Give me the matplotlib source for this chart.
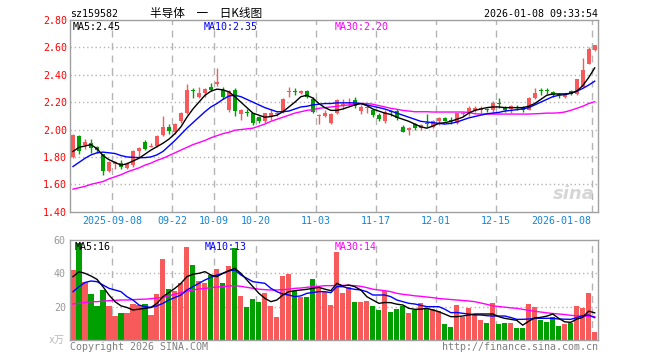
import matplotlib
matplotlib.use('Agg')
import matplotlib.pyplot as plt

W, H = 660, 360

# daily candles, 88 trading days (2025-08-28 .. 2026-01-08)
opens = [1.80, 1.95, 1.89, 1.90, 1.87, 1.82, 1.70, 1.75, 1.755, 1.72,
         1.74, 1.84, 1.91, 1.875, 1.88, 1.96, 2.02, 1.98, 2.06, 2.12,
         2.285, 2.24, 2.265, 2.31, 2.33, 2.29, 2.14, 2.29, 2.11, 2.125,
         2.12, 2.09, 2.06, 2.09, 2.115, 2.13, 2.275, 2.28, 2.265, 2.28,
         2.22, 2.10, 2.10, 2.05, 2.12, 2.18, 2.195, 2.215, 2.135, 2.155,
         2.14, 2.105, 2.06, 2.135, 2.135, 2.02, 1.995, 2.04, 2.01, 2.045,
         2.02, 2.06, 2.085, 2.07, 2.05, 2.115, 2.12, 2.145, 2.14, 2.15,
         2.145, 2.19, 2.16, 2.15, 2.16, 2.16, 2.145, 2.23, 2.285, 2.285,
         2.275, 2.255, 2.24, 2.28, 2.26, 2.31, 2.48, 2.58]
closes = [1.96, 1.84, 1.91, 1.865, 1.85, 1.70, 1.76, 1.765, 1.73, 1.75,
          1.84, 1.865, 1.86, 1.88, 1.95, 2.02, 1.99, 2.04, 2.12, 2.29,
          2.28, 2.265, 2.295, 2.29, 2.35, 2.24, 2.28, 2.135, 2.14, 2.12,
          2.045, 2.06, 2.12, 2.12, 2.12, 2.22, 2.28, 2.275, 2.28, 2.24,
          2.13, 2.105, 2.12, 2.11, 2.215, 2.19, 2.20, 2.17, 2.165, 2.16,
          2.105, 2.08, 2.125, 2.13, 2.085, 1.985, 2.01, 2.01, 2.03, 2.04,
          2.06, 2.085, 2.065, 2.065, 2.12, 2.12, 2.16, 2.16, 2.16, 2.145,
          2.195, 2.185, 2.14, 2.175, 2.155, 2.14, 2.23, 2.265, 2.28, 2.28,
          2.25, 2.25, 2.26, 2.26, 2.37, 2.435, 2.585, 2.615]
highs = [1.97, 1.96, 1.93, 1.93, 1.88, 1.82, 1.77, 1.77, 1.78, 1.76,
         1.85, 1.87, 1.92, 1.90, 1.96, 2.10, 2.04, 2.05, 2.13, 2.33,
         2.30, 2.31, 2.30, 2.34, 2.45, 2.31, 2.29, 2.30, 2.15, 2.15,
         2.12, 2.10, 2.12, 2.15, 2.13, 2.23, 2.31, 2.30, 2.29, 2.29,
         2.24, 2.11, 2.14, 2.12, 2.22, 2.22, 2.23, 2.24, 2.18, 2.18,
         2.15, 2.12, 2.14, 2.14, 2.15, 2.03, 2.02, 2.05, 2.04, 2.11,
         2.07, 2.09, 2.09, 2.09, 2.12, 2.13, 2.17, 2.17, 2.17, 2.16,
         2.21, 2.23, 2.17, 2.18, 2.18, 2.17, 2.24, 2.30, 2.30, 2.30,
         2.28, 2.27, 2.27, 2.29, 2.37, 2.52, 2.60, 2.62]
lows = [1.79, 1.82, 1.86, 1.83, 1.83, 1.67, 1.69, 1.71, 1.71, 1.71,
        1.73, 1.80, 1.85, 1.87, 1.87, 1.95, 1.97, 1.97, 2.05, 2.11,
        2.23, 2.23, 2.24, 2.28, 2.32, 2.22, 2.13, 2.10, 2.07, 2.10,
        2.03, 2.05, 2.05, 2.07, 2.10, 2.12, 2.24, 2.25, 2.26, 2.23,
        2.12, 2.04, 2.09, 2.04, 2.11, 2.15, 2.17, 2.16, 2.11, 2.12,
        2.09, 2.06, 2.05, 2.10, 2.07, 1.98, 1.96, 2.00, 2.00, 2.02,
        2.01, 2.03, 2.06, 2.04, 2.04, 2.10, 2.10, 2.13, 2.12, 2.13,
        2.12, 2.16, 2.13, 2.12, 2.14, 2.13, 2.14, 2.22, 2.25, 2.26,
        2.24, 2.23, 2.23, 2.25, 2.25, 2.31, 2.48, 2.57]

ma5 = [1.84, 1.87, 1.88, 1.89, 1.86, 1.81, 1.78, 1.76, 1.74, 1.75,
       1.77, 1.79, 1.82, 1.85, 1.875, 1.90, 1.93, 1.97, 2.02, 2.09,
       2.15, 2.20, 2.25, 2.28, 2.295, 2.29, 2.275, 2.24, 2.20, 2.16,
       2.12, 2.105, 2.09, 2.095, 2.105, 2.13, 2.165, 2.20, 2.24, 2.25,
       2.23, 2.19, 2.16, 2.14, 2.14, 2.15, 2.165, 2.18, 2.19, 2.175,
       2.15, 2.135, 2.12, 2.11, 2.09, 2.075, 2.06, 2.04, 2.02, 2.01,
       2.025, 2.045, 2.05, 2.06, 2.075, 2.09, 2.12, 2.14, 2.15, 2.16,
       2.165, 2.165, 2.16, 2.16, 2.16, 2.16, 2.17, 2.19, 2.22, 2.25,
       2.26, 2.26, 2.26, 2.265, 2.28, 2.32, 2.38, 2.45]
ma10 = [1.73, 1.76, 1.79, 1.815, 1.83, 1.835, 1.83, 1.825, 1.81, 1.80,
        1.797, 1.795, 1.795, 1.80, 1.815, 1.84, 1.88, 1.92, 1.965, 2.01,
        2.05, 2.09, 2.13, 2.165, 2.19, 2.22, 2.245, 2.25, 2.24, 2.22,
        2.20, 2.18, 2.16, 2.145, 2.13, 2.13, 2.135, 2.15, 2.165, 2.17,
        2.18, 2.185, 2.19, 2.19, 2.195, 2.195, 2.195, 2.195, 2.19, 2.18,
        2.17, 2.16, 2.15, 2.135, 2.12, 2.105, 2.09, 2.075, 2.06, 2.055,
        2.05, 2.045, 2.04, 2.045, 2.055, 2.07, 2.085, 2.095, 2.105, 2.115,
        2.12, 2.125, 2.135, 2.14, 2.145, 2.15, 2.16, 2.18, 2.20, 2.22,
        2.24, 2.25, 2.255, 2.265, 2.28, 2.30, 2.325, 2.353]
ma30 = [1.565, 1.575, 1.585, 1.60, 1.61, 1.62, 1.64, 1.655, 1.67, 1.69,
        1.705, 1.72, 1.74, 1.755, 1.775, 1.79, 1.81, 1.83, 1.85, 1.87,
        1.89, 1.905, 1.92, 1.94, 1.955, 1.97, 1.98, 1.995, 2.00, 2.005,
        2.01, 2.025, 2.04, 2.06, 2.075, 2.09, 2.105, 2.12, 2.13, 2.14,
        2.145, 2.155, 2.16, 2.165, 2.17, 2.175, 2.18, 2.185, 2.19, 2.19,
        2.185, 2.175, 2.165, 2.155, 2.148, 2.14, 2.135, 2.13, 2.13, 2.13,
        2.128, 2.128, 2.128, 2.128, 2.128, 2.128, 2.125, 2.115, 2.113, 2.113,
        2.113, 2.113, 2.113, 2.113, 2.113, 2.113, 2.113, 2.115, 2.117, 2.12,
        2.12, 2.122, 2.128, 2.14, 2.155, 2.17, 2.19, 2.203]

# volume in 万
volumes = [42, 58, 35, 27.6, 20.4, 30, 20.4, 14.4, 16, 16,
           21.6, 21, 21.6, 15, 27.4, 48.6, 30.4, 29.6, 34, 55.8,
           45, 35.4, 34.4, 39, 42.6, 34.4, 44.4, 55.2, 26.4, 19.8,
           24.6, 22.8, 28.2, 20.4, 13.8, 38.4, 39.6, 29.4, 26, 26,
           36.6, 31.6, 29, 21, 53, 28, 31.6, 22.8, 22.8, 23.4,
           20.4, 18, 29.6, 16.8, 18.6, 20.4, 16.2, 18, 22, 18.8,
           18.8, 17.4, 9.6, 7.8, 21, 14, 19.4, 15.4, 12, 10.4,
           22, 9.6, 10.2, 10.2, 7.2, 7.2, 21.6, 19.8, 12, 10.8,
           13.8, 8.4, 9.6, 10.2, 20.4, 19.2, 28.2, 5]
vma5 = [38, 41, 40, 38.4, 36.4, 32, 27, 23, 20.5, 19.5,
        18, 18.5, 19, 19.5, 22, 26, 28.5, 31, 34, 38,
        39.5, 40, 41, 39, 38, 40, 41.6, 43, 40, 36,
        32, 28, 25, 23, 24, 27, 29, 29.6, 30, 30.4,
        31, 31.6, 30.5, 29.6, 34, 32.4, 33, 32, 30, 26,
        24, 22, 22.5, 22.4, 21.5, 21, 19, 18.4, 18.5, 19,
        18, 17, 15.5, 14, 14, 14.4, 15, 15.6, 15.6, 15.6,
        15.6, 14, 13, 12.4, 11.8, 8.9, 11.3, 13.2, 13.6, 14.3,
        15.6, 13, 10.9, 10.6, 12.5, 13.6, 17.3, 16.3]
vma10 = [29, 32, 34.5, 35.4, 35, 33, 31, 30, 29, 26,
         24, 21, 20, 19.6, 20.5, 22, 24, 25.5, 27, 30,
         32, 34, 36, 37.6, 39, 40, 41.5, 42, 39, 37,
         35, 34.5, 34, 31, 29, 27.5, 27, 26, 26.5, 28,
         28.5, 29, 29, 28.4, 32, 32, 31, 30.4, 30, 29,
         27, 27, 27, 26, 24, 23, 22, 21.6, 20.8, 20,
         20, 20, 18.5, 16.4, 16.5, 16, 15.6, 15, 15, 14.6,
         14.4, 14.4, 14.4, 13.5, 12.4, 12.4, 12.6, 13, 13, 13,
         13, 12.6, 12.5, 12.4, 13.4, 14.6, 15.0, 13.4]
vma30 = [21.6, 22, 22.5, 23, 23, 23.3, 23.6, 23.8, 24, 24,
         24.2, 24.4, 24.5, 24.8, 25.2, 25.6, 26.5, 27.5, 28.3, 29.2,
         30, 30.6, 31, 31.4, 31.8, 32, 32.4, 32.6, 32.2, 31.6,
         31, 30.5, 30.2, 30, 30, 30.2, 30.5, 31, 31.2, 31.6,
         32, 32.2, 32.6, 32.6, 32.8, 32.8, 32.8, 32.6, 32.2, 31.4,
         30.5, 30, 29.6, 29, 28, 27.4, 27, 26.5, 26.2, 25.8,
         25.4, 24.9, 24.6, 24.3, 24, 23.7, 23.4, 23, 22.2, 21.4,
         20.5, 20.1, 19.7, 19.3, 19, 18.4, 17.8, 17.2, 16.8, 16.3,
         15.9, 15.6, 15.3, 14.8, 14.5, 14.3, 14.2, 14]

tick_bars = [7, 17, 24, 31, 41, 51, 61, 71, 87]
tick_labels = ['2025-09-08', '09-22', '10-09', '10-20', '11-03',
               '11-17', '12-01', '12-15', '2026-01-08']
price_ticks = [1.40, 1.60, 1.80, 2.00, 2.20, 2.40, 2.60, 2.80]
vol_ticks = [20, 40, 60]

RED = '#f65a5a'
GREEN = '#009f00'
FRAME = '#a0a0a0'
GRID = '#b4b4b4'
MONO = 'DejaVu Sans Mono'
FS = 7.2

n = len(closes)
xs = list(range(n))
colors = [RED if c >= o else GREEN for o, c in zip(opens, closes)]

fig = plt.figure(figsize=(W / 100, H / 100), dpi=100)
ax = fig.add_axes([70 / W, 1 - 211.7 / H, 527.7 / W, 191.7 / H])
axv = fig.add_axes([70 / W, 1 - 340 / H, 527.7 / W, 100 / H])

for a in (ax, axv):
    a.set_xlim(-0.5, n - 0.5)
    for s in a.spines.values():
        s.set_color(FRAME)
        s.set_linewidth(1)
    a.tick_params(length=0)
    a.set_xticks([])
    # date separators sit on the left edge of the bar
    for b in tick_bars:
        a.axvline(b - 0.5, color=GRID, lw=1, ls=(0, (5, 4)), zorder=0)

# price panel
ax.set_ylim(price_ticks[0], price_ticks[-1])
for p in price_ticks[1:-1]:
    ax.axhline(p, color=GRID, lw=1, ls=(0, (1, 2)), zorder=0)
ax.vlines(xs, lows, highs, colors=colors, lw=1, zorder=2)
bodies = [max(abs(c - o), 0.006) for o, c in zip(opens, closes)]
bottoms = [min(o, c) for o, c in zip(opens, closes)]
ax.bar(xs, bodies, bottom=bottoms, width=0.72, color=colors, lw=0, zorder=3)
ax.plot(xs, ma30, color='#ff00ff', lw=1, zorder=4)
ax.plot(xs, ma10, color='#0000ff', lw=1, zorder=4)
ax.plot(xs, ma5, color='black', lw=1, zorder=4)
ax.set_yticks(price_ticks)
ax.set_yticklabels([f'{p:.2f}' for p in price_ticks], family=MONO,
                   fontsize=FS, color='red')
ax.tick_params(axis='y', pad=2)

for i, b in enumerate(tick_bars):
    ha = 'right' if i == len(tick_bars) - 1 else 'center'
    ax.text(b - 0.5, -0.05, tick_labels[i], transform=ax.get_xaxis_transform(),
            ha=ha, va='center', family=MONO, fontsize=FS, color='#1485d4')

# watermark
ax.text(0.995, 0.09, 'sina', transform=ax.transAxes, ha='right', va='center',
        fontsize=13, fontstyle='italic', fontweight='bold', color='#d6d6d6')

# volume panel
axv.set_ylim(0, 60)
for v in vol_ticks[:-1]:
    axv.axhline(v, color=GRID, lw=1, ls=(0, (1, 2)), zorder=0)
axv.bar(xs, volumes, width=0.85, color=colors, lw=0, zorder=2)
axv.plot(xs, vma30, color='#ff00ff', lw=1, zorder=4)
axv.plot(xs, vma10, color='#0000ff', lw=1, zorder=4)
axv.plot(xs, vma5, color='black', lw=1, zorder=4)
axv.set_yticks(vol_ticks)
axv.set_yticklabels([str(v) for v in vol_ticks], family=MONO,
                    fontsize=FS, color='#999999')
axv.tick_params(axis='y', pad=3)


def ftext(x, y, s, **kw):
    kw.setdefault('family', MONO)
    kw.setdefault('fontsize', FS)
    kw.setdefault('va', 'center')
    fig.text(x / W, 1 - y / H, s, **kw)


# header
ftext(70, 14, 'sz159582')
ftext(150, 13, '半导体\u3000一\u3000日K线图', family=['Noto Sans CJK SC', 'DejaVu Sans'],
      fontsize=8.4)
ftext(598, 14, '2026-01-08 09:33:54', ha='right')

# MA legends
ftext(73, 27, f'MA5:{ma5[-1]:.2f}', color='black')
ftext(204, 27, f'MA10:{ma10[-1]:.2f}', color='#0000ff')
ftext(335, 27, f'MA30:{ma30[-1]:.2f}', color='#ff00ff')
ftext(75, 247, f'MA5:{vma5[-1]:.0f}', color='black')
ftext(205, 247, f'MA10:{vma10[-1]:.0f}', color='#0000ff')
ftext(335, 247, f'MA30:{vma30[-1]:.0f}', color='#ff00ff')

ftext(49, 340, 'x万', family=[MONO, 'Noto Sans CJK SC'], color='#b8b8b8')
ftext(70, 347, 'Copyright 2026 SINA.COM', color='#808080')
ftext(598, 347, 'http://finance.sina.com.cn', ha='right', color='#808080')

fig.savefig('out.png', dpi=100)
